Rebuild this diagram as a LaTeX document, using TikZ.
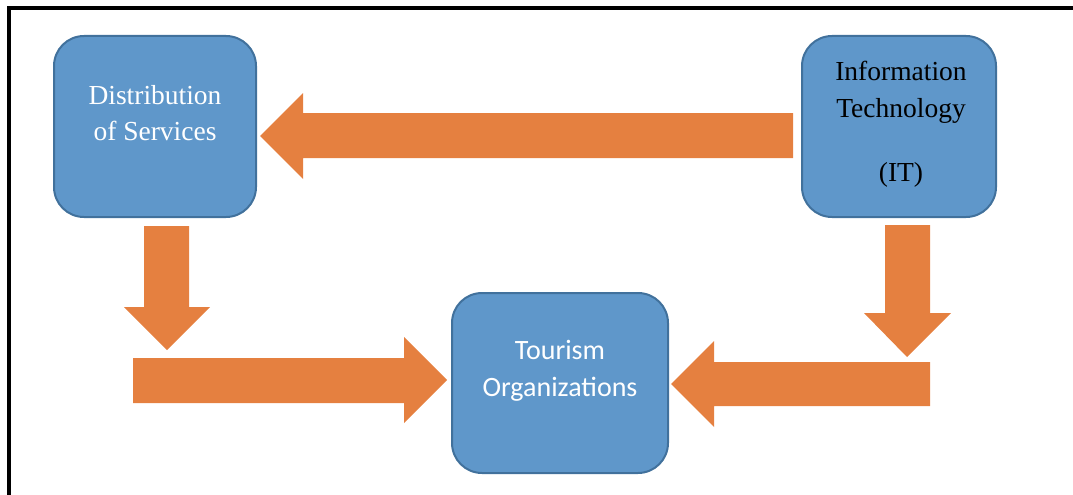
\documentclass[tikz,border=0pt]{standalone}
\usepackage{fontspec}
\setmainfont{Liberation Serif}
\newfontfamily\calibrifont{Carlito}
\definecolor{boxblue}{HTML}{5F97CA}
\definecolor{boxedge}{HTML}{41719C}
\definecolor{arrorange}{HTML}{E58040}
\begin{document}
\begin{tikzpicture}[x=1pt,y=-1pt,
  box/.style={draw=boxedge, line width=2pt, fill=boxblue, rounded corners=30pt, inner sep=0pt},
  flow/.style={fill=arrorange},
  serif/.style={font=\fontsize{27.5}{36}\selectfont, inner sep=0pt, anchor=base},
  sans/.style={font=\calibrifont\fontsize{28}{36}\selectfont, inner sep=0pt, anchor=base, text=white}]
\useasboundingbox (0,0) rectangle (1073,495);
\draw[line width=4pt] (9,495) -- (9,8) -- (1073,8);
% boxes
\node[box, minimum width=202pt, minimum height=181pt] (dist) at (155,126.5) {};
\node[box, minimum width=194pt, minimum height=181pt] (it) at (899,126.5) {};
\node[box, minimum width=216pt, minimum height=180pt] (tour) at (560,383) {};
% texts
\node[serif, text=white] (d1) at (155,104) {Distribution};
\node[serif, text=white] (d2) at (155,140) {of Services};
\node[serif] (i1) at (901,81) {Information};
\node[serif] (i2) at (901,117) {Technology};
\node[serif] (i3) at (901,181) {(IT)};
\node[sans] (t1) at (560,359) {Tourism};
\node[sans] (t2) at (560,396) {Organizations};
% block arrows
\fill[flow] (793,113) -- (303,113) -- (303,93) -- (260,136) -- (303,179) -- (303,158) -- (793,158) -- cycle;
\fill[flow] (144,226) -- (189,226) -- (189,307) -- (210,307) -- (167,350) -- (124,307) -- (144,307) -- cycle;
\fill[flow] (133,358) -- (404,358) -- (404,337) -- (447,380) -- (404,423) -- (404,403) -- (133,403) -- cycle;
\fill[flow] (885,225) -- (930,225) -- (930,313) -- (951,313) -- (907,357) -- (864,313) -- (885,313) -- cycle;
\fill[flow] (930,362) -- (714,362) -- (714,341) -- (671,384) -- (714,427) -- (714,406) -- (930,406) -- cycle;
\end{tikzpicture}
\end{document}
